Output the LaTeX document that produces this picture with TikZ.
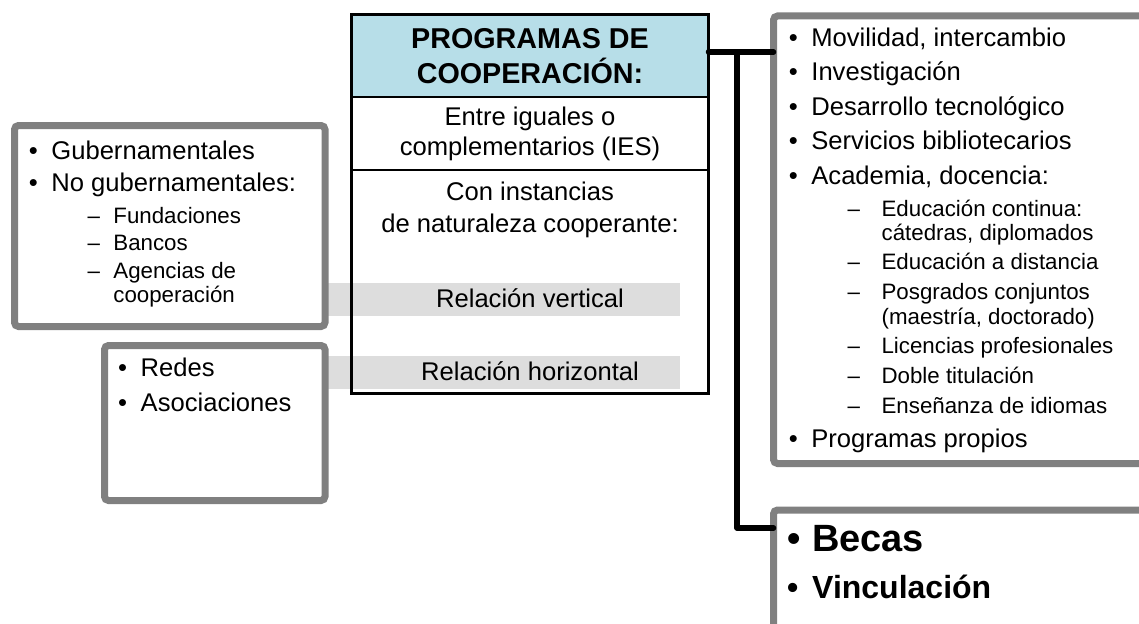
\documentclass[tikz,border=0pt]{standalone}
\usepackage{fontspec}
\setmainfont{Liberation Sans}
\usetikzlibrary{positioning}

\definecolor{headblue}{HTML}{B7DEE8}
\definecolor{boxgray}{HTML}{808080}
\definecolor{bandgray}{HTML}{DDDDDD}
\setlength{\lineskiplimit}{-100pt}

\newcommand{\mainsz}{\fontsize{25.6pt}{24pt}\selectfont}
\newcommand{\subsz}{\fontsize{22.3pt}{24pt}\selectfont}
\newcommand{\itm}{\mainsz\rule{0pt}{20pt}\makebox[22.5pt][l]{\textbullet}}
\newcommand{\subitm}[1][34pt]{\subsz\hspace*{58.7pt}\makebox[#1][l]{–}}
\newcommand{\subcont}[1][34pt]{\subsz\hspace*{\dimexpr58.7pt+#1\relax}}

\begin{document}
\begin{tikzpicture}[
  x=1pt, y=-1pt,
  gbox/.style={draw=boxgray, line width=7pt, rounded corners=4pt, fill=white, inner sep=0pt, outer sep=0pt},
  part/.style={draw, line width=1.5pt, minimum width=357pt, align=center, font=\mainsz, inner sep=0pt, outer sep=0pt},
  band/.style={fill=bandgray, minimum width=355pt, minimum height=33pt, inner sep=0pt, outer sep=0pt},
  lst/.style={align=left, anchor=north west, inner sep=0pt, font=\mainsz},
  link/.style={line width=5.5pt, line cap=round, line join=round}
]
\useasboundingbox (0,0) rectangle (1139,623);
\clip (0,0) rectangle (1139,623);

% relation bands
\node[band] (vband) at (502.5,299.5) {};
\node[band] (hband) at (502.5,372.5) {};

% central box
\node[part, fill=headblue, line width=1pt, minimum height=82.5pt,
  font=\fontsize{28.7pt}{24pt}\selectfont\bfseries] (prog) at (530,55.75) {PROGRAMAS DE\\[11pt]COOPERACIÓN:};
\node[part, minimum height=73pt, below=0pt of prog] (iguales) {Entre iguales o\\[6pt]complementarios (IES)};
\node[font=\mainsz, align=center, inner sep=0pt, below=10pt of iguales] (inst) {\rule{0pt}{20pt}Con instancias\\[8pt]de naturaleza cooperante:};
\node[font=\mainsz, inner sep=0pt, anchor=base, yshift=-7.5pt] (vert) at (vband -| prog) {Relación vertical};
\node[font=\mainsz, inner sep=0pt, anchor=base, yshift=-7.5pt] (horiz) at (hband -| prog) {Relación horizontal};
\node[draw, line width=3pt, minimum width=357pt, minimum height=379pt, inner sep=0pt, outer sep=0pt] (coop) at (530,204) {};

% left boxes
\node[gbox, minimum width=310.5pt, minimum height=201pt] (gob) at (169.75,226) {};
\node[lst] (gobtxt) at ([shift={(14.2,13.5)}]gob.north west) {\itm Gubernamentales\\[8pt]
  \itm No gubernamentales:\\[8pt]
  \subitm[25.8pt]Fundaciones\\[3pt]
  \subitm[25.8pt]Bancos\\[4pt]
  \subitm[25.8pt]Agencias de\\
  \subcont[25.8pt]cooperación};
\node[gbox, minimum width=220.5pt, minimum height=155pt] (redes) at (214.75,423) {};
\node[lst] (redestxt) at ([shift={(13.5,11.2)}]redes.north west) {\itm Redes\\[11pt]\itm Asociaciones};

% right boxes
\node[gbox, minimum width=390pt, minimum height=447.5pt, anchor=north west] (acad) at (773.5,16) {};
\node[lst] (acadtxt) at ([shift={(15.2,10)}]acad.north west) {\itm Movilidad, intercambio\\[10.5pt]
  \itm Investigación\\[10.5pt]
  \itm Desarrollo tecnológico\\[10.5pt]
  \itm Servicios bibliotecarios\\[10.5pt]
  \itm Academia, docencia:\\[8pt]
  \subitm Educación continua:\\
  \subcont cátedras, diplomados\\[5.5pt]
  \subitm Educación a distancia\\[5.5pt]
  \subitm Posgrados conjuntos\\[1pt]
  \subcont (maestría, doctorado)\\[5.5pt]
  \subitm Licencias profesionales\\[6pt]
  \subitm Doble titulación\\[6pt]
  \subitm Enseñanza de idiomas\\[10pt]
  \itm Programas propios};
\node[gbox, minimum width=390pt, minimum height=150pt, anchor=north west] (vinc) at (773.5,510) {};
\node[lst] (vinctxt) at ([shift={(13.5,13.7)}]vinc.north west) {\fontsize{38pt}{24pt}\selectfont\bfseries\rule{0pt}{28pt}\makebox[25pt][l]{\textbullet}Becas\\[22.6pt]
  \fontsize{32pt}{24pt}\selectfont\bfseries\makebox[25pt][l]{\textbullet}Vinculación};

% connectors
\coordinate (j1) at ([yshift=3.75pt]prog.east);
\coordinate (j2) at ([xshift=28.5pt]j1);
\draw[link] (j1) -- (j1 -| acad.west);
\draw[link] (j2) |- ([yshift=-18pt]vinc.north west);
\end{tikzpicture}
\end{document}
